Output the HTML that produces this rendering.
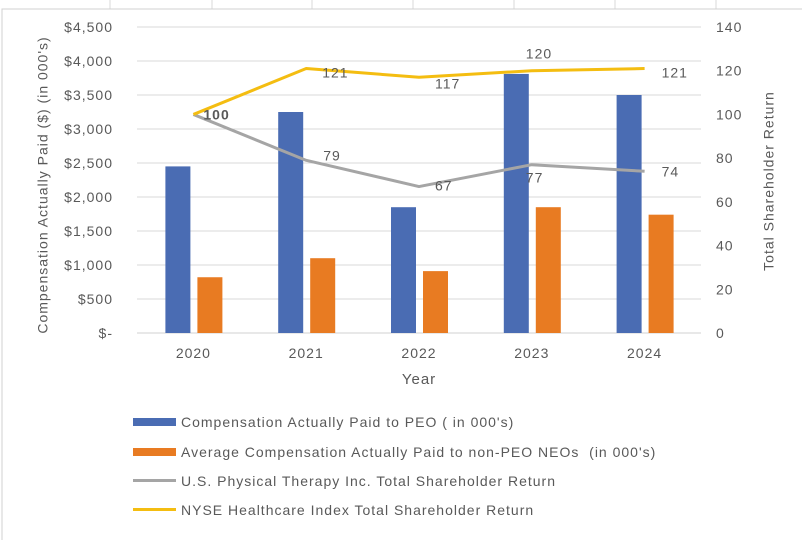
<!DOCTYPE html>
<html><head><meta charset="utf-8"><style>
body{margin:0;background:#fff;width:802px;height:540px;overflow:hidden;font-family:"Liberation Sans",sans-serif}
svg text{font-family:"Liberation Sans",sans-serif;fill:#595959;letter-spacing:1px}
</style></head><body>
<svg id="c" width="802" height="540">
<g stroke="#d9d9d9" stroke-width="1">
<line x1="110" y1="0" x2="110" y2="9"/><line x1="212" y1="0" x2="212" y2="9"/><line x1="312" y1="0" x2="312" y2="9"/><line x1="413" y1="0" x2="413" y2="9"/><line x1="514" y1="0" x2="514" y2="9"/><line x1="615" y1="0" x2="615" y2="9"/><line x1="716" y1="0" x2="716" y2="9"/>
</g>
<rect x="2" y="9" width="820" height="540" fill="#fff" stroke="#d0d0d0"/>
<g id="grid"></g><g id="bars"></g><g id="lines"></g><g id="labels"></g>
<text x="44" y="185" transform="rotate(-90 44 185)" font-size="14" text-anchor="middle" dominant-baseline="middle">Compensation Actually Paid ($) (in 000's)</text>
<text x="770" y="181" transform="rotate(-90 770 181)" font-size="14" text-anchor="middle" dominant-baseline="middle">Total Shareholder Return</text>
<text x="419" y="384" font-size="15" text-anchor="middle">Year</text>
<g font-size="14" style="letter-spacing:1.3px">
<rect x="133" y="418" width="43" height="8" fill="#4a6cb3"/>
<text x="181" y="427">Compensation Actually Paid to PEO ( in 000's)</text>
<rect x="133" y="448" width="43" height="8" fill="#e87b22"/>
<text x="181" y="457" xml:space="preserve">Average Compensation Actually Paid to non-PEO NEOs  (in 000's)</text>
<rect x="133" y="479" width="43" height="3" fill="#a5a5a5"/>
<text x="181" y="486">U.S. Physical Therapy Inc. Total Shareholder Return</text>
<rect x="133" y="508" width="43" height="3" fill="#f4bd11"/>
<text x="181" y="515">NYSE Healthcare Index Total Shareholder Return</text>
</g>
</svg>
<script>
const categories=["2020","2021","2022","2023","2024"];
const peo=[2450,3250,1850,3810,3500];
const neo=[820,1100,910,1850,1740];
const upt=[100,79,67,77,74];
const nyse=[100,121,117,120,121];
const leftTicks=[0,500,1000,1500,2000,2500,3000,3500,4000,4500];
const leftTickLabels=["$-","$500","$1,000","$1,500","$2,000","$2,500","$3,000","$3,500","$4,000","$4,500"];
const rightTicks=[0,20,40,60,80,100,120,140];
const NS="http://www.w3.org/2000/svg";
const x0=137,x1=701,yB=333,yT=27;
const band=(x1-x0)/categories.length;
const xc=i=>x0+band*(i+0.5);
const yL=v=>yB-(v/4500)*(yB-yT);
const yR=v=>yB-(v/140)*(yB-yT);
function el(t,a,p){const e=document.createElementNS(NS,t);for(const k in a)e.setAttribute(k,a[k]);document.getElementById(p).appendChild(e);return e;}
leftTicks.forEach((v,i)=>{
 const l=el('line',{x1:x0,x2:x1,y1:yL(v),y2:yL(v),stroke:v?'#d9d9d9':'#d0d0d0'},'grid');
 
 
 const t=el('text',{x:113,y:yL(v)+5,'text-anchor':'end','font-size':14},'grid');t.textContent=leftTickLabels[i];
 
 
});
rightTicks.forEach(v=>{
 const t=el('text',{x:716,y:yR(v)+5,'font-size':14},'grid');t.textContent=v;
 
 
});
categories.forEach((c,i)=>{
 const t=el('text',{x:xc(i),y:358,'text-anchor':'middle','font-size':14},'grid');t.textContent=c;
 
 
 const b=el('rect',{x:xc(i)-28,y:yL(peo[i]),width:25,height:yB-yL(peo[i]),fill:'#4a6cb3'},'bars');
 
 
 const o=el('rect',{x:xc(i)+4,y:yL(neo[i]),width:25,height:yB-yL(neo[i]),fill:'#e87b22'},'bars');
 
 
});
function line(d,col,name){
 const p=el('polyline',{points:d.map((v,i)=>xc(i)+','+yR(v)).join(' '),fill:'none',stroke:col,'stroke-width':3,'stroke-linejoin':'round'},'lines');
 
 
}
line(upt,'#a5a5a5','line-upt-tsr');
line(nyse,'#f4bd11','line-nyse-tsr');
const uptOff=[[10,0],[17,0],[16,4],[-6,18],[17,5]];
const nyseOff=[[10,0],[16,4],[16,6],[-6,-17],[17,4]];
upt.forEach((v,i)=>{ if(i===0)return;
 const t=el('text',{x:xc(i)+uptOff[i][0],y:yR(v)+uptOff[i][1],'font-size':14},'labels');t.textContent=v;
 
 
});
nyse.forEach((v,i)=>{
 const t=el('text',{x:xc(i)+nyseOff[i][0],y:yR(v)+nyseOff[i][1]+5,'font-size':14,'font-weight':i===0?'bold':'normal'},'labels');t.textContent=v;
 
 
});
</script>
</body></html>
